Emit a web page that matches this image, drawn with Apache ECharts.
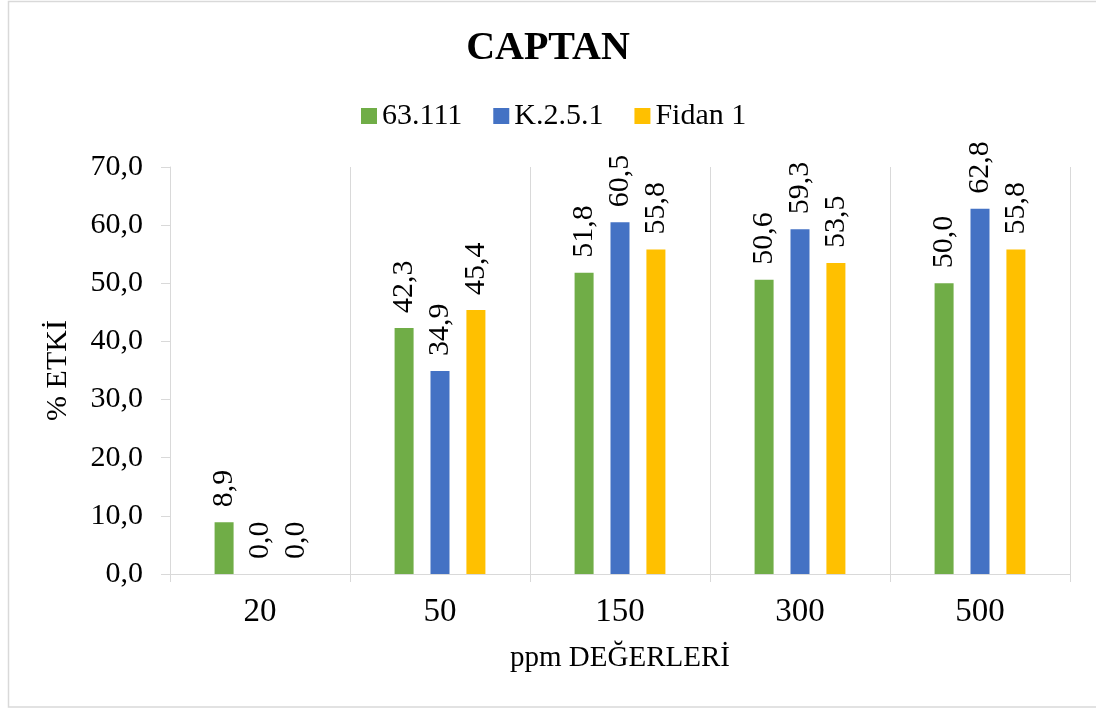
<!DOCTYPE html>
<html>
<head>
<meta charset="utf-8">
<title>CAPTAN</title>
<script src="https://cdn.jsdelivr.net/npm/echarts@6/dist/echarts.min.js"></script>
<style>
  html, body { margin: 0; padding: 0; background: #fff; }
  #chart { width: 1096px; height: 708px; }
</style>
</head>
<body>
<div id="chart"></div>
<script>
// Concentrations (ppm) on the category axis
const categories = ['20', '50', '150', '300', '500'];

// % effect per isolate
const seriesNames = ['63.111', 'K.2.5.1', 'Fidan 1'];
const values63111 = [8.9, 42.3, 51.8, 50.6, 50.0];
const valuesK251 = [0.0, 34.9, 60.5, 59.3, 62.8];
const valuesFidan1 = [0.0, 45.4, 55.8, 53.5, 55.8];

const colors = ['#70AD47', '#4472C4', '#FFC000'];
const FONT = 'Liberation Serif';
const GRID_LINE = '#d9d9d9';

const fmt = v => Number(v).toFixed(1).replace('.', ',');

function barSeries(name, data, color) {
  return {
    name: name,
    type: 'bar',
    data: data,
    barWidth: 19,
    barGap: '89%',
    itemStyle: { color: color },
    label: {
      show: true,
      position: 'top',
      rotate: 90,
      align: 'left',
      verticalAlign: 'middle',
      distance: 15,
      formatter: p => '{v|' + fmt(p.value) + '}',
      rich: {
        v: { fontFamily: FONT, fontSize: 30, fontWeight: 'normal', color: '#000' }
      }
    }
  };
}

const chart = echarts.init(document.getElementById('chart'), null, { renderer: 'canvas' });

chart.setOption({
  animation: false,
  backgroundColor: '#fff',
  textStyle: { fontFamily: FONT, color: '#000' },
  title: {
    text: 'CAPTAN',
    left: 'center',
    top: 24,
    textStyle: { fontFamily: FONT, fontSize: 40, fontWeight: 'bold', color: '#000' }
  },
  legend: {
    data: seriesNames,
    left: 356,
    top: 96,
    icon: 'rect',
    itemWidth: 16,
    itemHeight: 16,
    itemGap: 31,
    textStyle: { fontFamily: FONT, fontSize: 30, color: '#000' }
  },
  grid: { left: 170, right: 26, top: 167, bottom: 134, containLabel: false },
  xAxis: {
    type: 'category',
    data: categories,
    boundaryGap: true,
    axisLine: { show: true, lineStyle: { color: GRID_LINE, width: 1 } },
    axisTick: { show: true, length: 8, lineStyle: { color: GRID_LINE } },
    splitLine: { show: true, lineStyle: { color: GRID_LINE, width: 1 } },
    axisLabel: { fontFamily: FONT, fontSize: 33, color: '#000', margin: 22 },
    name: 'ppm DEĞERLERİ',
    nameLocation: 'middle',
    nameGap: 84,
    nameTextStyle: { fontFamily: FONT, fontSize: 29, color: '#000', verticalAlign: 'middle' }
  },
  yAxis: {
    type: 'value',
    min: 0,
    max: 70,
    interval: 10,
    axisLine: { show: true, lineStyle: { color: GRID_LINE, width: 1 } },
    axisTick: { show: true, length: 9, lineStyle: { color: GRID_LINE } },
    splitLine: { show: false },
    axisLabel: { fontFamily: FONT, fontSize: 30, color: '#000', margin: 27, formatter: v => fmt(v) },
    name: '% ETKİ',
    nameLocation: 'middle',
    nameRotate: 90,
    nameGap: 112,
    nameTextStyle: { fontFamily: FONT, fontSize: 30, color: '#000', verticalAlign: 'middle' }
  },
  series: [
    barSeries(seriesNames[0], values63111, colors[0]),
    barSeries(seriesNames[1], valuesK251, colors[1]),
    barSeries(seriesNames[2], valuesFidan1, colors[2])
  ],
  graphic: [{
    type: 'rect',
    silent: true,
    z: -1,
    shape: { x: 8.5, y: 1.5, width: 1100, height: 705.5, r: 0 },
    style: { fill: 'none', stroke: GRID_LINE, lineWidth: 1.5 }
  }]
});
</script>
</body>
</html>
